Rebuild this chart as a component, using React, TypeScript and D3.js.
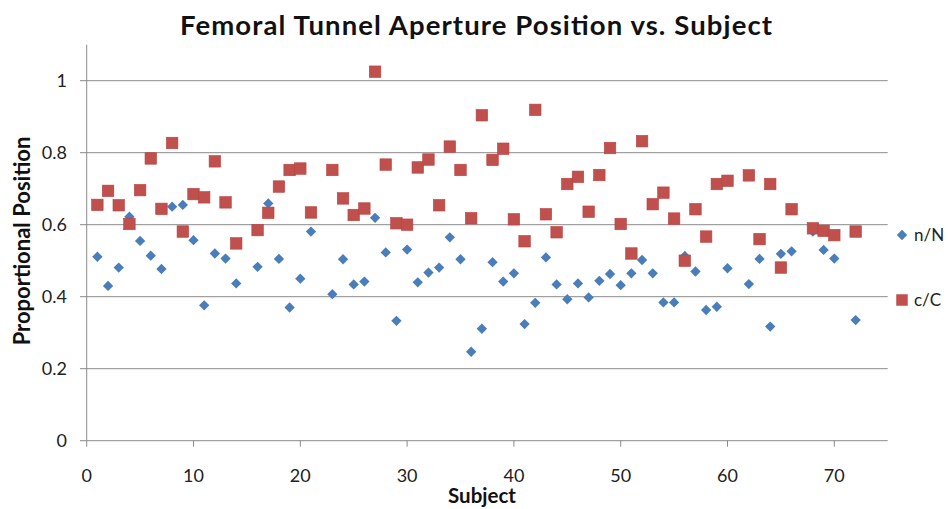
import React from "react";
import * as d3 from "d3";

const subjects = [1,2,3,4,5,6,7,8,9,10,11,12,13,14,16,17,18,19,20,21,23,24,25,26,27,28,29,30,31,32,33,34,35,36,37,38,39,40,41,42,43,44,45,46,47,48,49,50,51,52,53,54,55,56,57,58,59,60,62,63,64,65,66,68,69,70,72];
const nN = [0.511,0.430,0.481,0.622,0.555,0.514,0.477,0.650,0.655,0.557,0.376,0.520,0.506,0.437,0.483,0.659,0.505,0.370,0.450,0.581,0.407,0.504,0.434,0.442,0.619,0.523,0.333,0.531,0.440,0.467,0.481,0.565,0.504,0.247,0.311,0.496,0.442,0.465,0.324,0.383,0.509,0.434,0.393,0.437,0.398,0.444,0.463,0.432,0.465,0.502,0.465,0.384,0.384,0.513,0.470,0.363,0.372,0.479,0.435,0.505,0.317,0.519,0.526,0.581,0.530,0.506,0.335];
const cC = [0.655,0.694,0.654,0.602,0.696,0.784,0.644,0.827,0.581,0.685,0.676,0.776,0.662,0.548,0.585,0.633,0.706,0.752,0.756,0.634,0.752,0.673,0.627,0.645,1.025,0.767,0.604,0.600,0.759,0.781,0.654,0.817,0.752,0.618,0.904,0.780,0.811,0.615,0.554,0.919,0.629,0.579,0.713,0.733,0.636,0.738,0.813,0.602,0.520,0.832,0.657,0.689,0.617,0.500,0.643,0.567,0.713,0.722,0.737,0.560,0.713,0.481,0.643,0.590,0.583,0.571,0.581];
const xTicks = [0,10,20,30,40,50,60,70];
const yTicks = [0,0.2,0.4,0.6,0.8,1];
const seriesNames = ["n/N","c/C"];

const W = 948, H = 509;
const FONT = "Lato, 'Open Sans', sans-serif";
const BLUE = "#4A7EBB";
const RED = "#C0504D";
const GRID = "#8a8a8a";

export default function App() {
  const x = d3.scaleLinear().domain([0, 75]).range([86.7, 887.7]);
  const y = d3.scaleLinear().domain([0, 1.1]).range([440.7, 44.7]);
  const diamond = d3.symbol().type(d3.symbolDiamond2).size(68)();
  const sq = 11.5;
  const fmtY = (v: number) => (v === 0 ? "0" : v === 1 ? "1" : d3.format(".1f")(v));

  return (
    <svg width={W} height={H} style={{ position: "absolute", left: 0, top: 0, background: "#fff" }}>
      <text x={476} y={35} textAnchor="middle" fontFamily={FONT} fontWeight="bold" fontSize={27.5} fill="#111"
        textLength={592} lengthAdjust="spacing">
        Femoral Tunnel Aperture Position vs. Subject
      </text>
      {yTicks.filter(t => t > 0).map(t => (
        <line key={"g" + t} x1={x(0)} x2={x(75)} y1={y(t)} y2={y(t)} stroke={GRID} strokeWidth={1} />
      ))}
      {yTicks.map(t => (
        <line key={"yt" + t} x1={80} x2={x(0)} y1={y(t)} y2={y(t)} stroke={GRID} strokeWidth={1} />
      ))}
      {yTicks.map(t => (
        <text key={"yl" + t} x={67} y={y(t)} dy="0.35em" textAnchor="end" fontFamily={FONT} fontSize={18} fill="#222">
          {fmtY(t)}
        </text>
      ))}
      <line x1={x(0)} x2={x(0)} y1={y(1.1)} y2={y(0)} stroke={GRID} strokeWidth={1} />
      <line x1={x(0)} x2={x(75)} y1={y(0)} y2={y(0)} stroke={GRID} strokeWidth={1} />
      {xTicks.map(t => (
        <line key={"xt" + t} x1={x(t)} x2={x(t)} y1={y(0)} y2={y(0) + 6} stroke={GRID} strokeWidth={1} />
      ))}
      {xTicks.map(t => (
        <text key={"xl" + t} x={x(t)} y={482} textAnchor="middle" fontFamily={FONT} fontSize={18} fill="#222">
          {t}
        </text>
      ))}
      <text x={482} y={503} textAnchor="middle" fontFamily={FONT} fontWeight="bold" fontSize={20.5} fill="#111">
        Subject
      </text>
      <text transform={`translate(30,241) rotate(-90)`} textAnchor="middle" fontFamily={FONT} fontWeight="bold" fontSize={22} fill="#111">
        Proportional Position
      </text>
      {subjects.map((s, i) => (
        <path key={"n" + s} d={diamond} transform={`translate(${x(s)},${y(nN[i])})`} fill={BLUE} />
      ))}
      {subjects.map((s, i) => (
        <rect key={"c" + s} x={x(s) - sq / 2} y={y(cC[i]) - sq / 2} width={sq} height={sq} fill={RED} stroke="#B8433F" strokeWidth={0.6} />
      ))}
      <path d={diamond} transform="translate(902,235)" fill={BLUE} />
      <text x={914} y={235} dy="0.35em" fontFamily={FONT} fontSize={17} fill="#222">{seriesNames[0]}</text>
      <rect x={902 - sq / 2} y={300 - sq / 2} width={sq} height={sq} fill={RED} />
      <text x={914} y={300} dy="0.35em" fontFamily={FONT} fontSize={17} fill="#222">{seriesNames[1]}</text>
    </svg>
  );
}
